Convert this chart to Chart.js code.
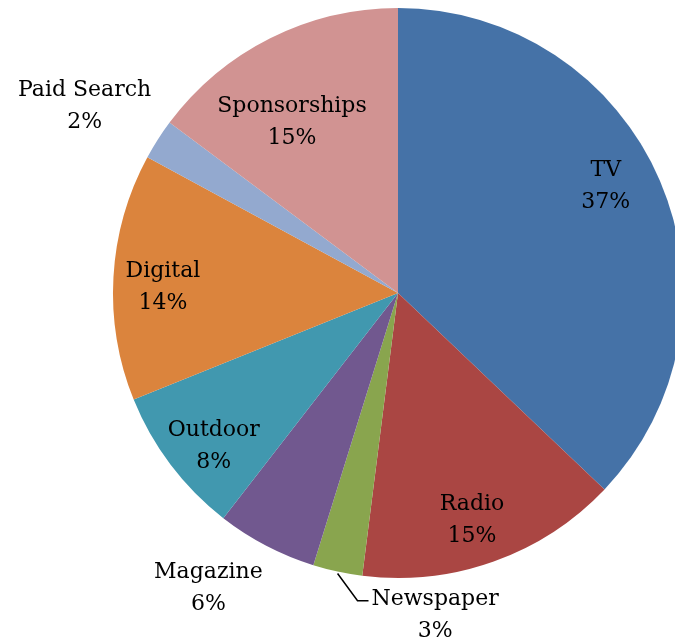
<!DOCTYPE html>
<html>
<head>
<meta charset="utf-8">
<script src="https://cdn.jsdelivr.net/npm/chart.js"></script>
<style>
    html, body { margin: 0; padding: 0; background: #fff; overflow: hidden; }
    #wrap { width: 700px; height: 643px; position: relative; }
</style>
</head>
<body>
<div id="wrap"><canvas id="pie"></canvas></div>
<script>
const categories = ['TV', 'Radio', 'Newspaper', 'Magazine', 'Outdoor', 'Digital', 'Paid Search', 'Sponsorships'];
const shares = [37.1, 14.9, 2.8, 5.7, 8.4, 14.0, 2.3, 14.8];
const colors = ['#4572A7', '#AA4643', '#89A54E', '#71588F', '#4198AF', '#DB843D', '#93A9CF', '#D19392'];

// label placement: [radius factor, angle offset in degrees from slice middle]
const labelPlace = [
    [0.82, -4], [0.84, 1.6], [1.14, -18.8], [1.23, 5.2],
    [0.84, -2.6], [0.825, -1.9], [1.28, -1.8], [0.705, -5.2]
];

const labelPlugin = {
    id: 'labels',
    afterDatasetsDraw(chart) {
        const ctx = chart.ctx;
        const arcs = chart.getDatasetMeta(0).data;
        ctx.save();
        ctx.font = '22px "DejaVu Serif"';
        ctx.fillStyle = '#000';
        ctx.textAlign = 'center';
        ctx.textBaseline = 'middle';
        arcs.forEach((arc, i) => {
            const mid = (arc.startAngle + arc.endAngle) / 2 + labelPlace[i][1] * Math.PI / 180;
            const r = arc.outerRadius * labelPlace[i][0];
            const x = arc.x + Math.cos(mid) * r;
            const y = arc.y + Math.sin(mid) * r;
            const top = y - 16;
            ctx.fillText(categories[i], x, top);
            ctx.fillText(Math.round(shares[i]) + '%', x, top + 32);
            if (categories[i] === 'Newspaper') {
                // leader line from slice edge to the label
                const a = (arc.startAngle + arc.endAngle) / 2;
                const sx = arc.x + Math.cos(a) * arc.outerRadius;
                const sy = arc.y + Math.sin(a) * arc.outerRadius + 2;
                const left = x - ctx.measureText(categories[i]).width / 2 - 3;
                ctx.beginPath();
                ctx.strokeStyle = '#000';
                ctx.lineWidth = 1.5;
                ctx.moveTo(sx, sy);
                ctx.lineTo(left - 11, top + 1);
                ctx.lineTo(left, top + 1);
                ctx.stroke();
            }
        });
        ctx.restore();
    }
};

new Chart(document.getElementById('pie'), {
    type: 'pie',
    data: {
        labels: categories,
        datasets: [{
            data: shares,
            backgroundColor: colors,
            borderWidth: 0
        }]
    },
    options: {
        responsive: true,
        maintainAspectRatio: false,
        animation: false,
        layout: { padding: { left: 113, right: 17, top: 8, bottom: 65 } },
        plugins: {
            legend: { display: false },
            tooltip: { enabled: false }
        }
    },
    plugins: [labelPlugin]
});
</script>
</body>
</html>
